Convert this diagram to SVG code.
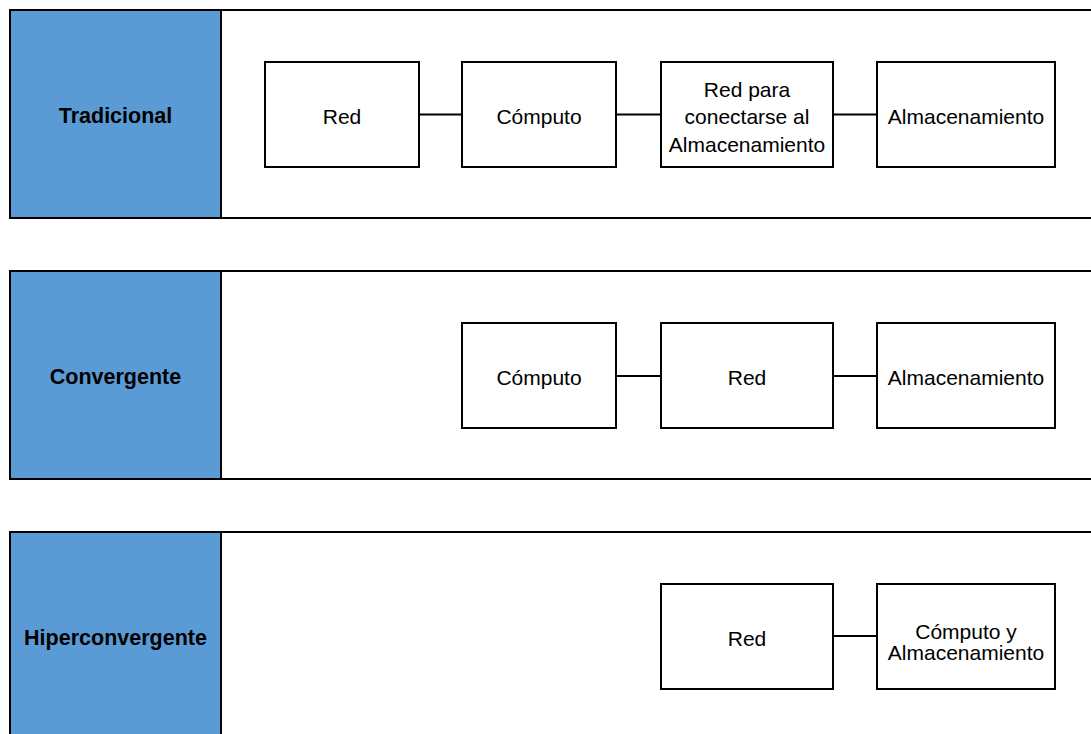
<svg xmlns="http://www.w3.org/2000/svg" width="1091" height="734" viewBox="0 0 1091 734">
  <style>
    .band { fill: #ffffff; stroke: #000000; stroke-width: 2; }
    .head { fill: #5B9BD5; }
    .divider { stroke: #000000; stroke-width: 2; }
    .box { fill: #ffffff; stroke: #000000; stroke-width: 2; }
    .link { stroke: #000000; stroke-width: 2; fill: none; }
    .title { font-family: "Liberation Sans", Arial, sans-serif; font-size: 21.5px; font-weight: bold; fill: #000000; text-anchor: middle; }
    .label { font-family: "Liberation Sans", Arial, sans-serif; font-size: 21px; fill: #000000; text-anchor: middle; }
  </style>

  <!-- Row 1: Tradicional -->
  <g id="row-tradicional">
    <rect class="band" x="10" y="10" width="1100" height="208"/>
    <rect class="head" x="11" y="11" width="210" height="206"/>
    <line class="divider" x1="221" y1="10" x2="221" y2="218"/>
    <text class="title" x="115.5" y="122.5">Tradicional</text>
  </g>

  <!-- Row 2: Convergente -->
  <g id="row-convergente">
    <rect class="band" x="10" y="271" width="1100" height="208"/>
    <rect class="head" x="11" y="272" width="210" height="206"/>
    <line class="divider" x1="221" y1="271" x2="221" y2="479"/>
    <text class="title" x="115.5" y="383.5">Convergente</text>
  </g>

  <!-- Row 3: Hiperconvergente -->
  <g id="row-hiperconvergente">
    <rect class="band" x="10" y="532" width="1100" height="220"/>
    <rect class="head" x="11" y="533" width="210" height="218"/>
    <line class="divider" x1="221" y1="532" x2="221" y2="752"/>
    <text class="title" x="115.5" y="644.5">Hiperconvergente</text>
  </g>

  <!-- Connectors -->
  <g id="connectors">
    <line class="link" x1="419" y1="114.5" x2="462" y2="114.5"/>
    <line class="link" x1="616" y1="114.5" x2="661" y2="114.5"/>
    <line class="link" x1="833" y1="114.5" x2="877" y2="114.5"/>
    <line class="link" x1="616" y1="376" x2="661" y2="376"/>
    <line class="link" x1="833" y1="376" x2="877" y2="376"/>
    <line class="link" x1="833" y1="636" x2="877" y2="636"/>
  </g>

  <!-- Row 1 nodes -->
  <g id="t-red">
    <rect class="box" x="265" y="62" width="154" height="105"/>
    <text class="label" x="342" y="123.5">Red</text>
  </g>
  <g id="t-computo">
    <rect class="box" x="462" y="62" width="154" height="105"/>
    <text class="label" x="539" y="123.5">Cómputo</text>
  </g>
  <g id="t-red-almac">
    <rect class="box" x="661" y="62" width="172" height="105"/>
    <text class="label" x="747" y="96.5">Red para</text>
    <text class="label" x="747" y="124">conectarse al</text>
    <text class="label" x="747" y="151.5">Almacenamiento</text>
  </g>
  <g id="t-almac">
    <rect class="box" x="877" y="62" width="178" height="105"/>
    <text class="label" x="966" y="123.5">Almacenamiento</text>
  </g>

  <!-- Row 2 nodes -->
  <g id="c-computo">
    <rect class="box" x="462" y="323" width="154" height="105"/>
    <text class="label" x="539" y="384.5">Cómputo</text>
  </g>
  <g id="c-red">
    <rect class="box" x="661" y="323" width="172" height="105"/>
    <text class="label" x="747" y="384.5">Red</text>
  </g>
  <g id="c-almac">
    <rect class="box" x="877" y="323" width="178" height="105"/>
    <text class="label" x="966" y="384.5">Almacenamiento</text>
  </g>

  <!-- Row 3 nodes -->
  <g id="h-red">
    <rect class="box" x="661" y="584" width="172" height="105"/>
    <text class="label" x="747" y="645.5">Red</text>
  </g>
  <g id="h-computo-almac">
    <rect class="box" x="877" y="584" width="178" height="105"/>
    <text class="label" x="966" y="638.5">Cómputo y</text>
    <text class="label" x="966" y="659.5">Almacenamiento</text>
  </g>
</svg>
